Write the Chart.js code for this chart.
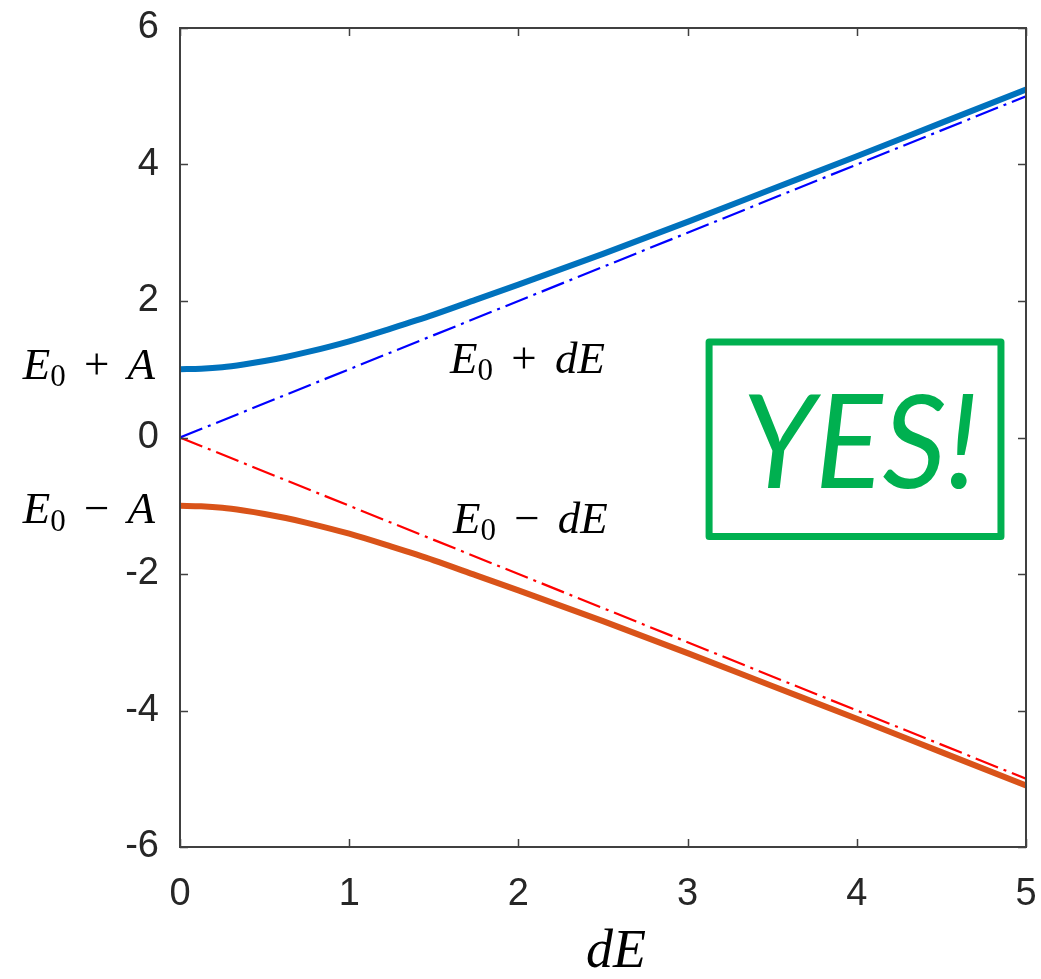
<!DOCTYPE html>
<html>
<head>
<meta charset="utf-8">
<script src="https://cdn.jsdelivr.net/npm/chart.js@4.4.1/dist/chart.umd.min.js"></script>
<style>
html,body{margin:0;padding:0;background:#fff;}
#wrap{width:1041px;height:979px;}
</style>
</head>
<body>
<div id="wrap"><canvas id="c" width="1041" height="979"></canvas></div>
<script>
// ---- data ----
const xValues     = [0, 0.125, 0.25, 0.375, 0.5, 0.625, 0.75, 1, 1.25, 1.5, 1.75, 2, 2.5, 3, 3.5, 4, 4.5, 5];
const upperValues = [1, 1.008, 1.03, 1.07, 1.12, 1.18, 1.25, 1.41, 1.6, 1.8, 2.02, 2.24, 2.69, 3.16, 3.64, 4.12, 4.61, 5.1];
const lowerValues = [-1, -1.008, -1.03, -1.07, -1.12, -1.18, -1.25, -1.41, -1.6, -1.8, -2.02, -2.24, -2.69, -3.16, -3.64, -4.12, -4.61, -5.1];
const asymX       = [0, 5];
const asymUpper   = [0, 5];
const asymLower   = [0, -5];
const xTicks      = [0, 1, 2, 3, 4, 5];
const yTicks      = [-6, -4, -2, 0, 2, 4, 6];

const pts = (xs, ys) => xs.map((x, i) => ({x: x, y: ys[i]}));

const SERIF = '"Liberation Serif", "DejaVu Serif", serif';
const SANS = '"Liberation Sans", Arial, sans-serif';

function drawMath(ctx, parts, x, y, size, align) {
  // parts: [{t, it, sub, gap}]
  const fontOf = p => (p.it ? 'italic ' : '') + (p.sub ? Math.round(size * 0.7) : size) + 'px ' + SERIF;
  const widths = parts.map(p => {
    if (p.gap !== undefined) return p.gap;
    ctx.font = fontOf(p);
    return ctx.measureText(p.t).width;
  });
  const total = widths.reduce((a, b) => a + b, 0);
  let cx = align === 'right' ? x - total : (align === 'center' ? x - total / 2 : x);
  ctx.textAlign = 'left';
  ctx.textBaseline = 'alphabetic';
  parts.forEach((p, i) => {
    if (p.gap === undefined) {
      ctx.font = fontOf(p);
      ctx.fillText(p.t, cx, y + (p.sub ? size * 0.17 : 0));
    }
    cx += widths[i];
  });
}

const decor = {
  id: 'decor',
  afterDraw(chart) {
    const ctx = chart.ctx;
    const a = chart.chartArea;
    const xs = chart.scales.x, ys = chart.scales.y;
    ctx.save();
    // axes box
    ctx.strokeStyle = '#404040';
    ctx.lineWidth = 2;
    ctx.strokeRect(a.left, a.top, a.right - a.left, a.bottom - a.top);
    // inward ticks
    ctx.lineWidth = 1.5;
    const tl = 8;
    ctx.beginPath();
    xTicks.forEach(v => {
      const px = Math.round(xs.getPixelForValue(v)) + 0.5;
      ctx.moveTo(px, a.bottom); ctx.lineTo(px, a.bottom - tl);
      ctx.moveTo(px, a.top); ctx.lineTo(px, a.top + tl);
    });
    yTicks.forEach(v => {
      const py = Math.round(ys.getPixelForValue(v)) + 0.5;
      ctx.moveTo(a.left, py); ctx.lineTo(a.left + tl, py);
      ctx.moveTo(a.right, py); ctx.lineTo(a.right - tl, py);
    });
    ctx.stroke();

    // math labels
    ctx.fillStyle = '#000';
    const fs = 45;
    const g = {gap: 7};
    const E0 = [{t: 'E', it: true}, {t: '0', sub: true}];
    drawMath(ctx, E0.concat([g, {t: ' + '}, g, {t: 'A', it: true}]), a.left - 25, ys.getPixelForValue(0.864), fs, 'right');
    drawMath(ctx, E0.concat([g, {t: ' \u2212 '}, g, {t: 'A', it: true}]), a.left - 25, ys.getPixelForValue(-1.26), fs, 'right');
    drawMath(ctx, E0.concat([g, {t: ' + '}, g, {t: 'dE', it: true}]), xs.getPixelForValue(1.596), ys.getPixelForValue(0.952), fs, 'left');
    drawMath(ctx, E0.concat([g, {t: ' \u2212 '}, g, {t: 'dE', it: true}]), xs.getPixelForValue(1.613), ys.getPixelForValue(-1.392), fs, 'left');
    // x axis title
    drawMath(ctx, [{t: 'dE', it: true}], (a.left + a.right) / 2 + 13, 967, 54, 'center');

    // YES! box
    const bx0 = xs.getPixelForValue(3.127), bx1 = xs.getPixelForValue(4.852);
    const by0 = ys.getPixelForValue(1.40), by1 = ys.getPixelForValue(-1.45);
    ctx.strokeStyle = '#00B050';
    ctx.lineWidth = 7;
    ctx.lineJoin = 'round';
    ctx.strokeRect(bx0, by0, bx1 - bx0, by1 - by0);
    ctx.fillStyle = '#00B050';
    ctx.font = 'italic 130px Lato, "Open Sans", sans-serif';
    ctx.textBaseline = 'alphabetic';
    ctx.textAlign = 'left';
    const txt = 'YES!';
    const w = ctx.measureText(txt).width;
    const target = 236;
    const sc = target / w;
    const cxm = (bx0 + bx1) / 2 + 5;
    ctx.save();
    ctx.translate(cxm - target / 2, ys.getPixelForValue(-0.74));
    ctx.scale(sc, 1);
    ctx.fillText(txt, 0, 0);
    ctx.restore();
    ctx.restore();
  }
};

new Chart(document.getElementById('c'), {
  type: 'line',
  data: {
    datasets: [
      {data: pts(asymX, asymUpper), borderColor: '#0000FF', borderWidth: 2.2, borderDash: [24, 6, 3, 6], pointRadius: 0, order: 0, fill: false},
      {data: pts(asymX, asymLower), borderColor: '#FF0000', borderWidth: 2.2, borderDash: [24, 6, 3, 6], pointRadius: 0, order: 0, fill: false},
      {data: pts(xValues, upperValues), borderColor: '#0072BD', borderWidth: 6, pointRadius: 0, cubicInterpolationMode: 'monotone', order: 1, fill: false},
      {data: pts(xValues, lowerValues), borderColor: '#D95319', borderWidth: 6, pointRadius: 0, cubicInterpolationMode: 'monotone', order: 1, fill: false}
    ]
  },
  options: {
    responsive: false,
    animation: false,
    layout: {padding: {top: 28, right: 15, left: 0, bottom: 0}},
    plugins: {legend: {display: false}, tooltip: {enabled: false}},
    scales: {
      x: {
        type: 'linear', min: 0, max: 5,
        afterBuildTicks: s => { s.ticks = xTicks.map(v => ({value: v})); },
        ticks: {font: {family: SANS, size: 38}, color: '#262626', padding: 25, maxRotation: 0},
        grid: {display: false, drawTicks: false},
        border: {display: false},
        afterFit: s => { s.height = 132; s.paddingLeft = 0; s.paddingRight = 0; }
      },
      y: {
        type: 'linear', min: -6, max: 6,
        afterBuildTicks: s => { s.ticks = yTicks.map(v => ({value: v})); },
        ticks: {font: {family: SANS, size: 38}, color: '#262626', padding: 21},
        grid: {display: false, drawTicks: false},
        border: {display: false},
        afterFit: s => { s.width = 180; s.paddingTop = 0; s.paddingBottom = 0; }
      }
    }
  },
  plugins: [decor]
});
</script>
</body>
</html>
